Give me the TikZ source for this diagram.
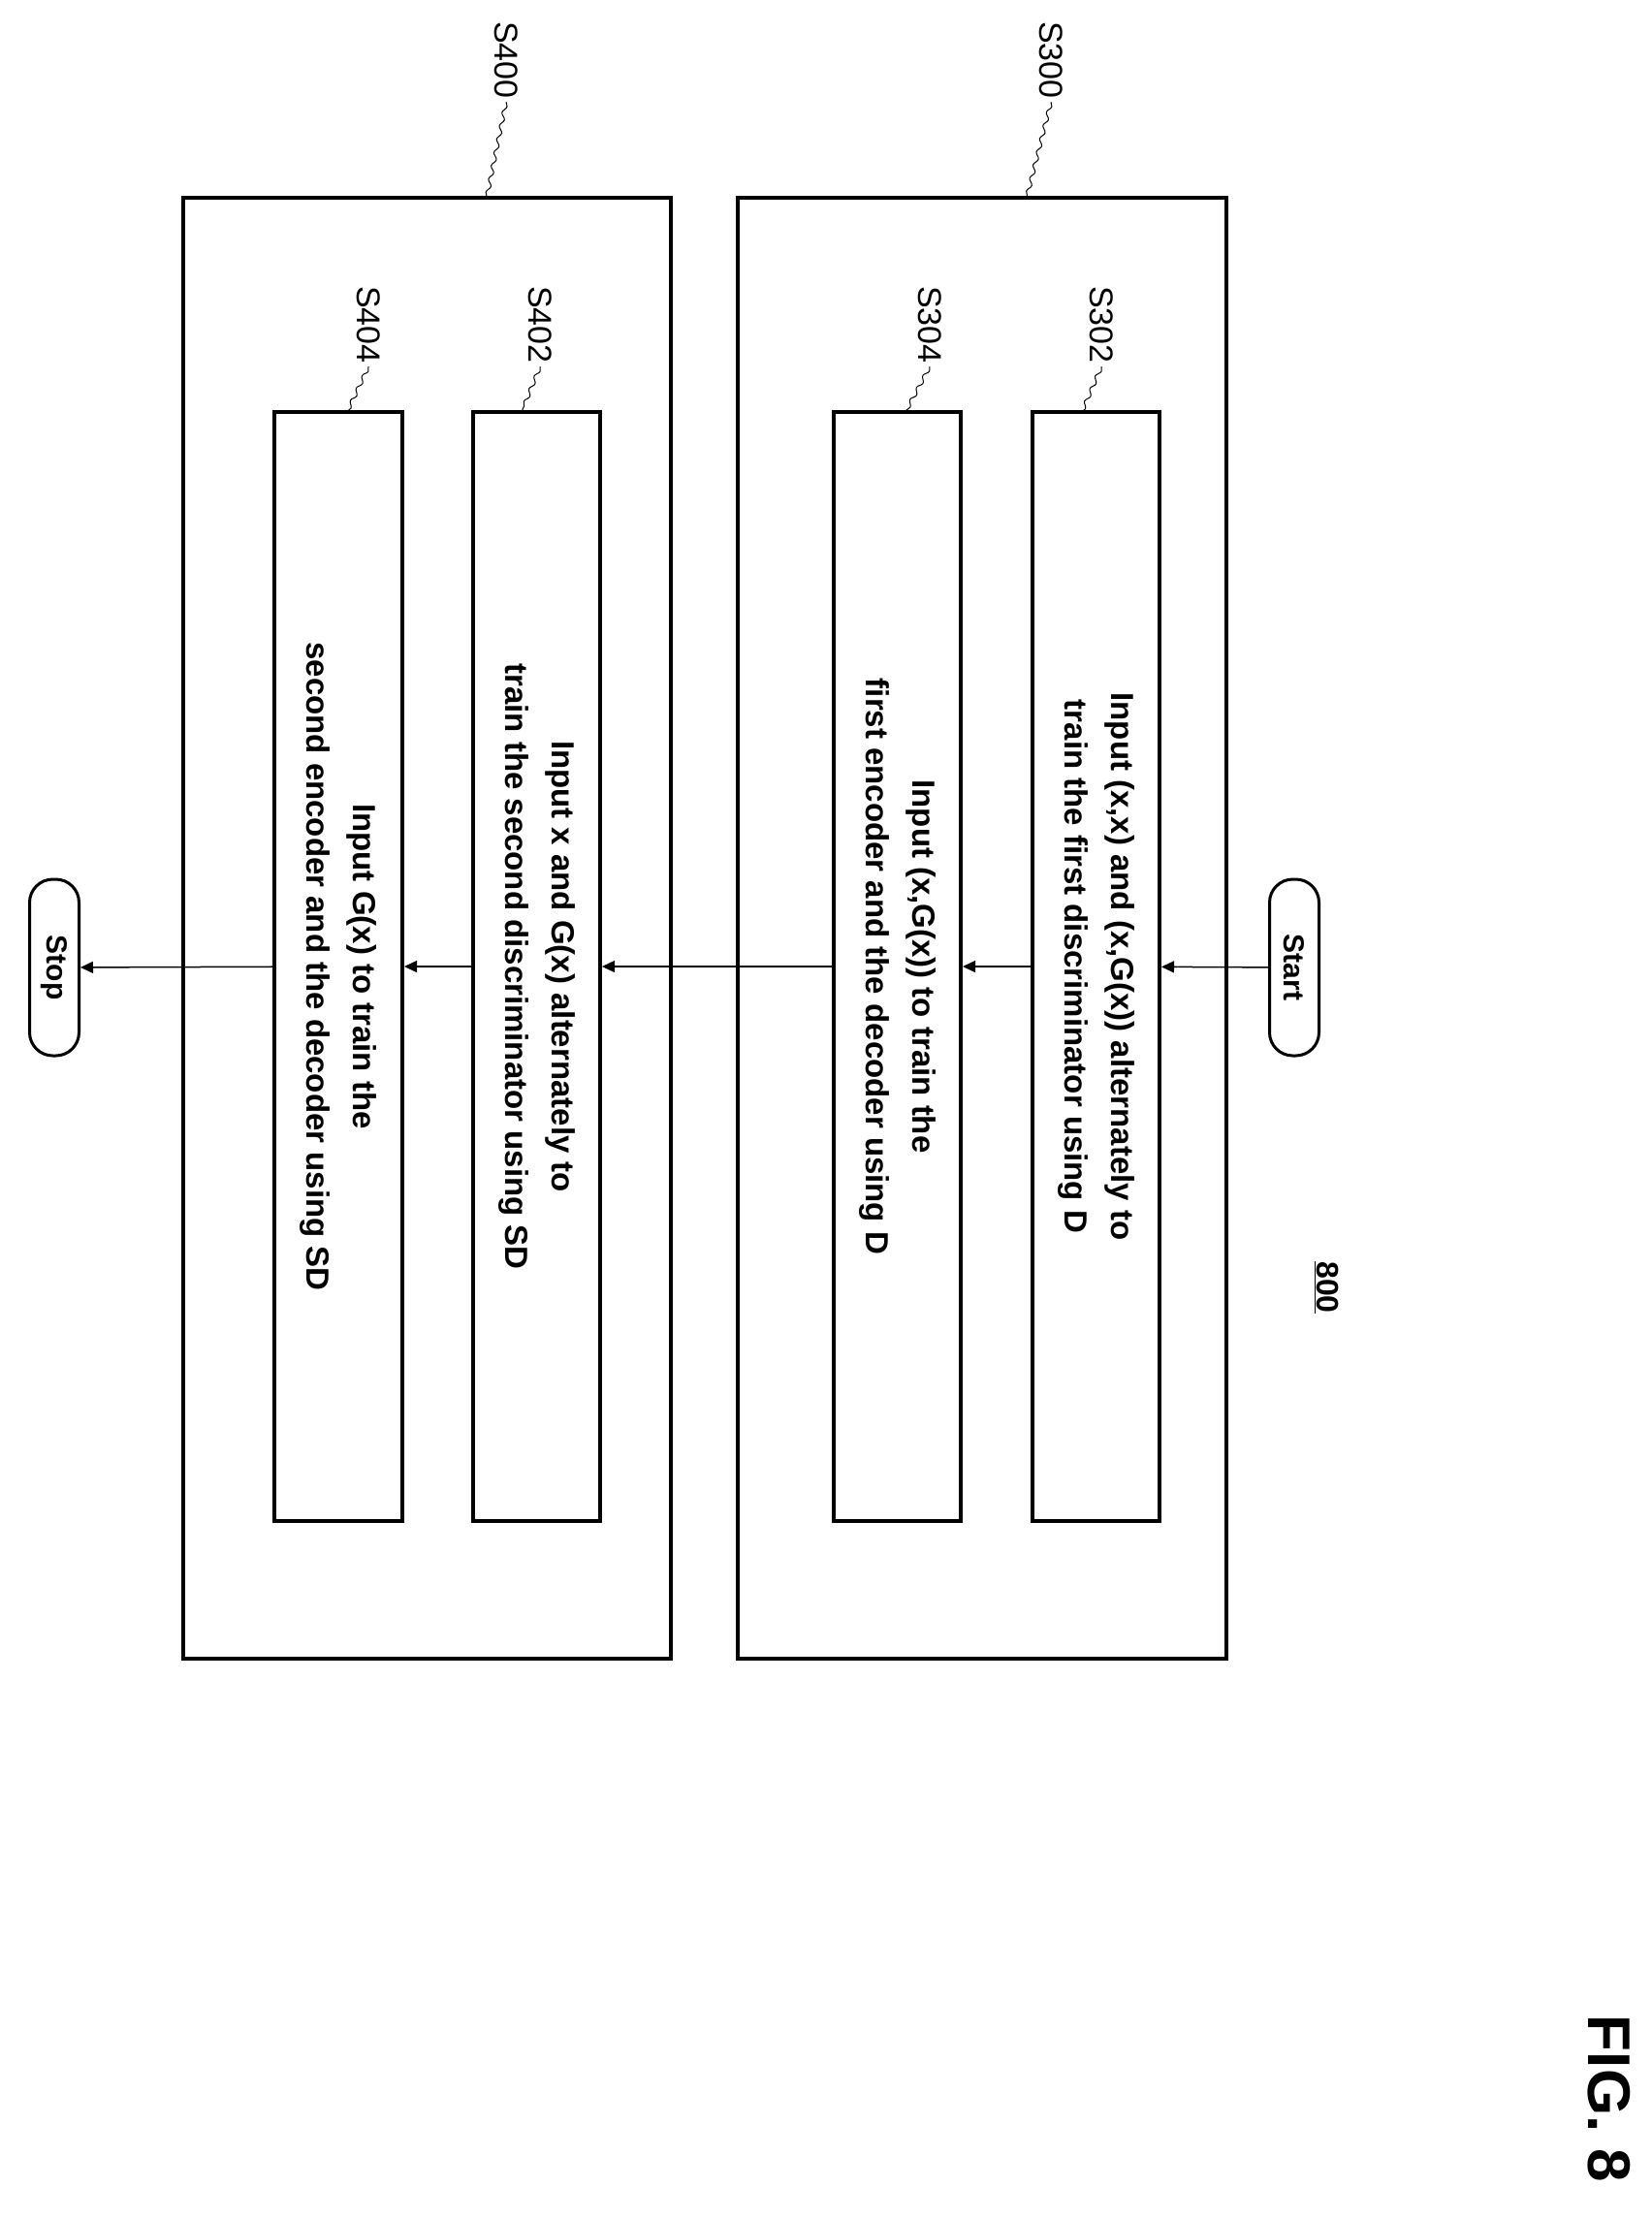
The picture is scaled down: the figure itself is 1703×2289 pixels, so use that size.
\documentclass[tikz,border=0pt]{standalone}
\usepackage{fontspec}
\setmainfont{Liberation Sans}
\usetikzlibrary{arrows.meta,decorations.pathmorphing}
\begin{document}
\begin{tikzpicture}[x=1pt,y=-1pt,
  box/.style={draw,line width=4pt,inner sep=0,minimum width=#1},
  txt/.style={rotate=-90,align=center,font=\bfseries\fontsize{33}{48}\selectfont},
  lab/.style={rotate=-90,font=\fontsize{34}{40}\selectfont},
  term/.style={draw,line width=3pt,rounded corners=24pt,rotate=-90,minimum width=182pt,minimum height=51pt,inner sep=0,font=\bfseries\fontsize{30}{34}\selectfont},
  arr/.style={line width=1.5pt,-{Triangle[length=13pt,width=12pt]}},
  lead/.style={line width=1pt,decorate,decoration={snake,amplitude=2pt,segment length=14pt}}]
\useasboundingbox (0,0) rectangle (1703,2289);
% outer boxes
\node[box=504pt,minimum height=1507pt] (b300) at (1013,957.5) {};
\node[box=503pt,minimum height=1507pt] (b400) at (440.5,957.5) {};
% inner boxes
\node[box=131pt,minimum height=1144pt] (s302) at (1130.5,997) {};
\node[box=131pt,minimum height=1144pt] (s304) at (925.5,997) {};
\node[box=131pt,minimum height=1144pt] (s402) at (553.5,997) {};
\node[box=132pt,minimum height=1144pt] (s404) at (349,997) {};
\node[txt] (t302) at (s302) {Input (x,x) and (x,G(x)) alternately to\\train the first discriminator using D};
\node[txt] (t304) at (s304) {Input (x,G(x)) to train the\\first encoder and the decoder using D};
\node[txt] (t402) at (s402) {Input x and G(x) alternately to\\train the second discriminator using SD};
\node[txt] (t404) at (s404) {Input G(x) to train the\\second encoder and the decoder using SD};
% terminals
\node[term] (start) at (1335,998) {Start};
\node[term] (stop) at (56,998) {Stop};
% arrows
\draw[arr] (start) -- (s302);
\draw[arr] (s302) -- (s304);
\draw[arr] (s304) -- (s402);
\draw[arr] (s402) -- (s404);
\draw[arr] (s404) -- (stop);
% labels
\node[lab] (l300) at (1084,62) {S300};
\node[lab] (l400) at (522,62) {S400};
\node[lab] (l302) at (1136,335) {S302};
\node[lab] (l304) at (959,335) {S304};
\node[lab] (l402) at (557,335) {S402};
\node[lab] (l404) at (380,335) {S404};
\coordinate (c300) at (1059,204);
\coordinate (c400) at (502,204);
\coordinate (c302) at (1116,425);
\coordinate (c304) at (934,425);
\coordinate (c402) at (538,425);
\coordinate (c404) at (358,425);
\foreach \n in {300,400,302,304,402,404}{\draw[lead] (l\n.east) -- (c\n);}
\node[lab,font=\bfseries\fontsize{32}{36}\selectfont] (n800) at (1368,1328) {\underline{800}};
\node[rotate=-90,font=\bfseries\fontsize{62}{70}\selectfont] (fig) at (1660,2165) {FIG. 8};
\end{tikzpicture}
\end{document}
